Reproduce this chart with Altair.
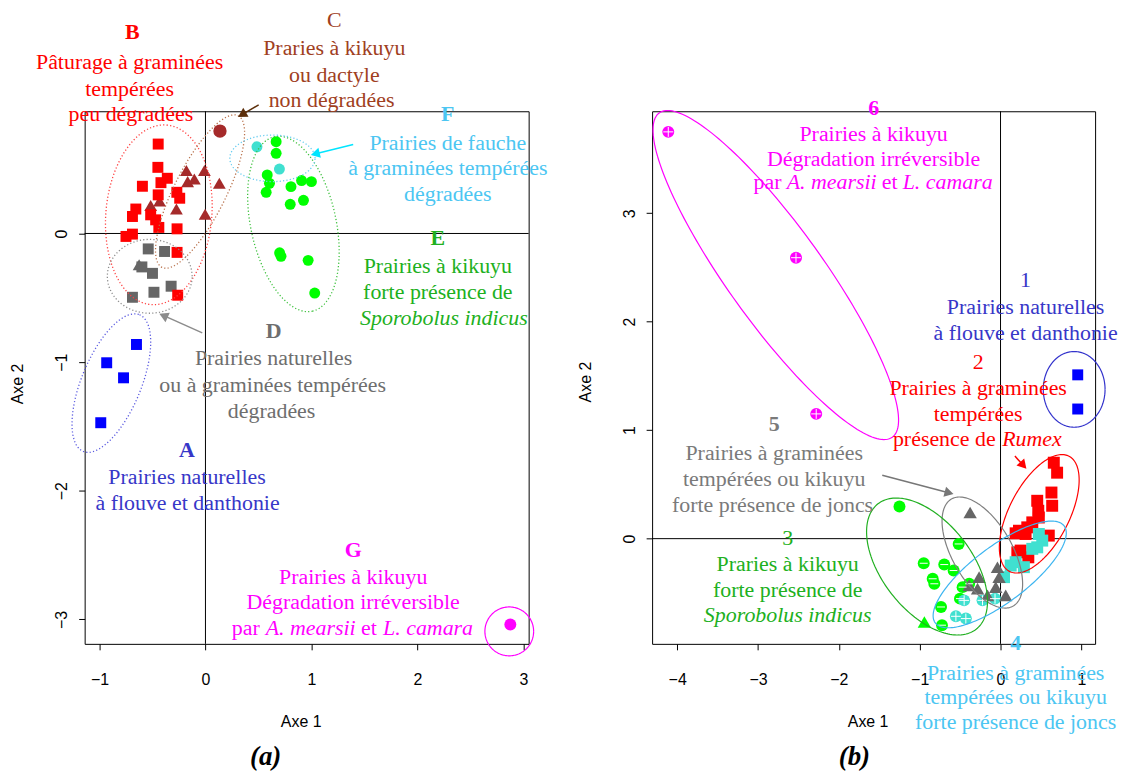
import math
import numpy as np
import pandas as pd
import altair as alt

SERIF = "Liberation Serif"
SANS = "Liberation Sans"

# ======================= PANEL (a) =======================
A_XDOM = [-1.14, 3.05]
A_YDOM = [-3.19, 0.95]
A_XTICKS = [-1, 0, 1, 2, 3]
A_YTICKS = [-3, -2, -1, 0]
A_W, A_H = 446, 535

# A : blue squares
a_A_x = [-0.651, -0.932, -0.773, -0.988]
a_A_y = [-0.863, -1.005, -1.122, -1.471]
# B : red squares
a_B_x = [-0.446, -0.449, -0.36, -0.42, -0.595, -0.446, -0.27, -0.243, -0.657,
         -0.689, -0.517, -0.47, -0.44, -0.268, -0.689, -0.75, -0.268, -0.262]
a_B_y = [0.695, 0.514, 0.429, 0.395, 0.367, 0.30, 0.32, 0.274, 0.19,
         0.132, 0.145, 0.106, 0.047, 0.036, -0.005, -0.023, -0.147, -0.48]
# C : brown triangles + brown circle
a_Ct_x = [-0.18, -0.01, -0.105, -0.168, 0.131, -0.517, -0.433, -0.274, -0.003]
a_Ct_y = [0.49, 0.49, 0.424, 0.403, 0.39, 0.217, 0.253, 0.19, 0.15]
a_Cc_x = [0.137]
a_Cc_y = [0.796]
# D : gray squares + gray triangle
a_Ds_x = [-0.54, -0.386, -0.60, -0.50, -0.324, -0.486, -0.689]
a_Ds_y = [-0.12, -0.14, -0.26, -0.31, -0.41, -0.457, -0.496]
a_Dt_x = [-0.626]
a_Dt_y = [-0.243]
# E : green circles
a_E_x = [0.667, 0.667, 0.583, 0.604, 0.573, 0.807, 0.907, 1.0, 0.80, 0.925,
         0.713, 0.70, 0.969, 1.031]
a_E_y = [0.713, 0.623, 0.455, 0.39, 0.32, 0.364, 0.411, 0.403, 0.227, 0.258,
         -0.178, -0.15, -0.209, -0.463]
# F : turquoise circles
a_F_x = [0.486, 0.698]
a_F_y = [0.674, 0.501]
# G : magenta circle
a_G_x = [2.877]
a_G_y = [-3.039]

# ellipses (centre, first and second semi-diameters) : B, C, D, A, E, F, G
a_ell_cx = [-0.44, -0.051, -0.526, -0.888, 0.83, 0.632, 2.867]
a_ell_cy = [0.145, 0.326, -0.333, -1.163, 0.074, 0.584, -3.093]
a_ell_ax = [0.075, 0.36, 0.40, 0.266, 0.179, 0.402, 0.23]
a_ell_ay = [0.698, 0.589, 0.0, 0.531, -0.678, 0.0, 0.0]
a_ell_bx = [0.498, 0.217, 0.0, 0.259, 0.393, 0.0, 0.0]
a_ell_by = [-0.036, -0.091, 0.287, -0.089, 0.071, 0.181, 0.19]
a_ell_col = ["#FF4040", "#B8704A", "#8C8C8C", "#5A5AE0", "#3CC03C", "#66CCF0", "#FF00FF"]
a_ell_dot = [True, True, True, True, True, True, False]

# arrows (tail -> head)
a_arr_x0 = [0.502, 1.394, -0.03]
a_arr_y0 = [1.0, 0.692, -0.773]
a_arr_x1 = [0.357, 1.05, -0.383]
a_arr_y1 = [0.93, 0.622, -0.643]
a_arr_col = ["#5C2E0A", "#00E5FF", "#8C8C8C"]

# annotations
a_txt = ["B", "Pâturage à graminées", "tempérées", "peu dégradées",
         "C", "Praries à kikuyu", "ou dactyle", "non dégradées",
         "F", "Prairies de fauche", "à graminées tempérées", "dégradées",
         "E", "Prairies à kikuyu", "forte présence de", "Sporobolus indicus",
         "D", "Prairies naturelles", "ou à graminées tempérées", "dégradées",
         "A", "Prairies naturelles", "à flouve et danthonie",
         "G", "Prairies à kikuyu", "Dégradation irréversible",
         "par ", "A. mearsii", "et", "L. camara"]
a_txt_x = [-0.69, -0.716, -0.716, -0.704,
           1.216, 1.216, 1.216, 1.19,
           2.287, 2.287, 2.287, 2.287,
           2.193, 2.193, 2.193, 2.25,
           0.643, 0.643, 0.634, 0.624,
           -0.174, -0.174, -0.169,
           1.394, 1.394, 1.394,
           0.249, 0.568, 1.469, 1.676]
a_txt_y = [1.566, 1.333, 1.124, 0.925,
           1.659, 1.442, 1.233, 1.039,
           0.930, 0.705, 0.512, 0.31,
           -0.039, -0.256, -0.457, -0.659,
           -0.760, -0.969, -1.178, -1.380,
           -1.682, -1.891, -2.093,
           -2.457, -2.667, -2.868,
           -3.07, -3.07, -3.07, -3.07]
a_txt_key = ["B"] * 4 + ["C"] * 4 + ["F"] * 4 + ["E"] * 4 + ["D"] * 4 + ["A"] * 3 + ["G"] * 7
a_txt_font = ["b", "n", "n", "n",
              "n", "n", "n", "n",
              "b", "n", "n", "n",
              "b", "n", "n", "i",
              "b", "n", "n", "n",
              "b", "n", "n",
              "b", "n", "n", "n", "i", "n", "i"]
a_txt_align = ["c"] * 26 + ["l"] * 4
a_cap = ["(a)"]
a_cap_x = [0.568]
a_cap_y = [-4.07]

# ======================= PANEL (b) =======================
B_XDOM = [-4.31, 1.17]
B_YDOM = [-0.97, 3.94]
B_XTICKS = [-4, -3, -2, -1, 0, 1]
B_YTICKS = [0, 1, 2, 3]
B_W, B_H = 445, 535

# 1 : blue squares
b_1_x = [0.955, 0.955]
b_1_y = [1.51, 1.195]
# 2 : red squares
b_2_x = [0.659, 0.70, 0.63, 0.639, 0.454, 0.467, 0.474, 0.393, 0.331, 0.228,
         0.187, 0.31, 0.597, 0.249, 0.208, 0.344]
b_2_y = [0.70, 0.608, 0.425, 0.303, 0.349, 0.257, 0.195, 0.15, 0.104, 0.073,
         0.049, 0.043, 0.028, -0.11, -0.126, -0.172]
# 3 : green circles + green triangle
b_3c_x = [-1.25, -0.518, -0.95, -0.696, -0.58, -0.839, -0.819, -0.469, -0.388,
          -0.502, -0.736, -0.724]
b_3c_y = [0.296, -0.049, -0.227, -0.239, -0.294, -0.37, -0.416, -0.447, -0.416,
          -0.553, -0.63, -0.798]
b_3t_x = [-0.942]
b_3t_y = [-0.768]
# 4 : turquoise squares + circles
b_4s_x = [0.474, 0.516, 0.454, 0.393, 0.187, 0.289, 0.126, 0.043]
b_4s_y = [0.043, -0.018, -0.08, -0.094, -0.217, -0.263, -0.248, -0.355]
b_4c_x = [-0.45, -0.552, -0.429, -0.223, -0.068]
b_4c_y = [-0.569, -0.716, -0.737, -0.569, -0.553]
# 5 : gray triangles
b_5_x = [-0.376, -0.265, -0.038, -0.018, -0.284, -0.161, -0.059, 0.064, -0.388]
b_5_y = [0.241, -0.355, -0.263, -0.355, -0.461, -0.523, -0.447, -0.523, -0.431]
# 6 : magenta circles
b_6_x = [-4.11, -2.53, -2.28]
b_6_y = [3.75, 2.59, 1.15]

# ellipses : 6, 1, 2, 5, 3, 4
b_ell_cx = [-2.78, 0.911, 0.479, -0.225, -0.909, -0.01]
b_ell_cy = [2.43, 1.376, 0.229, -0.128, -0.257, -0.33]
b_ell_ax = [1.441, 0.382, 0.368, 0.382, 0.607, 0.797]
b_ell_ay = [-1.495, 0.0, 0.531, -0.493, -0.578, 0.447]
b_ell_bx = [0.48, 0.0, 0.329, 0.32, 0.437, 0.208]
b_ell_by = [0.257, 0.349, -0.127, 0.138, 0.254, -0.205]
b_ell_col = ["#FF00FF", "#3333CC", "#FF0000", "#808080", "#22B022", "#3DB5F0"]
b_ell_dot = [False] * 6

b_arr_x0 = [0.178, -1.463]
b_arr_y0 = [0.761, 0.584]
b_arr_x1 = [0.27, -0.654]
b_arr_y1 = [0.685, 0.425]
b_arr_col = ["#FF0000", "#777777"]

b_txt = ["6", "Prairies à kikuyu", "Dégradation irréversible",
         "par ", "A. mearsii", "et", "L. camara",
         "1", "Prairies naturelles", "à flouve et danthonie",
         "2", "Prairies à graminées", "tempérées", "présence de ", "Rumex",
         "5", "Prairies à graminées", "tempérées ou kikuyu", "forte présence de joncs",
         "3", "Praries à kikuyu", "forte présence de", "Sporobolus indicus",
         "4", "Prairies à graminées", "tempérées ou kikuyu", "forte présence de joncs"]
b_txt_x = [-1.57, -1.57, -1.57, -3.055, -2.645, -1.469, -1.211,
           0.31, 0.31, 0.31,
           -0.277, -0.277, -0.277, -1.331, 0.021,
           -2.80, -2.80, -2.80, -2.82,
           -2.633, -2.633, -2.633, -2.633,
           0.187, 0.187, 0.187, 0.187]
b_txt_y = [3.972, 3.728, 3.498, 3.284, 3.284, 3.284, 3.284,
           2.385, 2.138, 1.899,
           1.627, 1.388, 1.15, 0.915, 0.915,
           1.055, 0.789, 0.55, 0.312,
           0.006, -0.232, -0.471, -0.706,
           -0.966, -1.241, -1.459, -1.688]
b_txt_key = ["6"] * 7 + ["1"] * 3 + ["2"] * 5 + ["5"] * 4 + ["3"] * 4 + ["4"] * 4
b_txt_font = ["b", "n", "n", "n", "i", "n", "i",
              "n", "n", "n",
              "n", "n", "n", "n", "i",
              "b", "n", "n", "n",
              "n", "n", "n", "i",
              "b", "n", "n", "n"]
b_txt_align = ["c", "c", "c", "l", "l", "l", "l",
               "c", "c", "c",
               "c", "c", "c", "l", "l",
               "c", "c", "c", "c",
               "c", "c", "c", "c",
               "c", "c", "c", "c"]
b_cap = ["(b)"]
b_cap_x = [-1.808]
b_cap_y = [-2.009]

# ======================= styles =======================
PT = {"blue": "#0000FF", "red": "#FF0000", "brown": "#A52A2A", "gray": "#666666",
      "green": "#00FF00", "turq": "#40E0D0", "magenta": "#FF00FF"}
TXT_COL = {"A": "#3737C8", "B": "#FF0000", "C": "#A0401E", "D": "#6E6E6E",
           "E": "#20B020", "F": "#4CC6F2", "G": "#FF00FF",
           "1": "#3737C8", "2": "#FF0000", "3": "#20B020", "4": "#4CC6F2",
           "5": "#7A7A7A", "6": "#FF00FF"}
CROSS = "M-1,0L1,0M0,-1L0,1"
DASH = "M-0.8,0L0.8,0"

# (xs, ys, shape, colour, size, white overlay glyph or None)
a_points = [
    (a_Ds_x, a_Ds_y, "square", "gray", 121, None),
    (a_Dt_x, a_Dt_y, "triangle-up", "gray", 165, None),
    (a_Ct_x, a_Ct_y, "triangle-up", "brown", 165, None),
    (a_Cc_x, a_Cc_y, "circle", "brown", 180, None),
    (a_B_x, a_B_y, "square", "red", 121, None),
    (a_E_x, a_E_y, "circle", "green", 121, None),
    (a_F_x, a_F_y, "circle", "turq", 121, None),
    (a_A_x, a_A_y, "square", "blue", 121, None),
    (a_G_x, a_G_y, "circle", "magenta", 144, None),
]
b_points = [
    (b_1_x, b_1_y, "square", "blue", 121, None),
    (b_2_x, b_2_y, "square", "red", 144, None),
    (b_3c_x[:1], b_3c_y[:1], "circle", "green", 144, None),
    (b_3c_x[1:], b_3c_y[1:], "circle", "green", 144, DASH),
    (b_3t_x, b_3t_y, "triangle-up", "green", 180, None),
    (b_4s_x, b_4s_y, "square", "turq", 144, None),
    (b_4c_x, b_4c_y, "circle", "turq", 144, CROSS),
    (b_5_x, b_5_y, "triangle-up", "gray", 180, None),
    (b_6_x, b_6_y, "circle", "magenta", 144, CROSS),
]


def build_panel(xdom, ydom, xticks, yticks, w, h, points, ell, arrows, texts, cap,
                xtitle_shift, ytitle_shift):
    xs = alt.Scale(domain=xdom, nice=False, zero=False)
    ys = alt.Scale(domain=ydom, nice=False, zero=False)
    xaxis = alt.Axis(values=xticks, title="Axe 1", grid=False, domain=False,
                     tickSize=6, tickColor="black", tickWidth=1,
                     labelFont=SANS, labelFontSize=16, labelColor="black",
                     labelPadding=22, labelFlush=False, labelOverlap=False,
                     titleFont=SANS, titleFontSize=16, titleFontWeight="normal",
                     titleColor="black", titleX=w / 2 + xtitle_shift, titleY=78,
                     titleAlign="center", titleBaseline="middle")
    yaxis = alt.Axis(values=yticks, title="Axe 2", grid=False, domain=False,
                     tickSize=6, tickColor="black", tickWidth=1,
                     labelFont=SANS, labelFontSize=16, labelColor="black",
                     labelAngle=270, labelAlign="center", labelBaseline="bottom",
                     labelPadding=9, labelFlush=False, labelOverlap=False,
                     titleFont=SANS, titleFontSize=16, titleFontWeight="normal",
                     titleColor="black", titleAngle=270, titleX=-67,
                     titleY=h / 2 + ytitle_shift,
                     titleAlign="center", titleBaseline="middle")

    def X(f):
        return alt.X(f"{f}:Q", scale=xs, axis=xaxis)

    def Y(f):
        return alt.Y(f"{f}:Q", scale=ys, axis=yaxis)

    sx = w / (xdom[1] - xdom[0])
    sy = h / (ydom[1] - ydom[0])

    layers = []
    # zero reference lines
    layers.append(alt.Chart(pd.DataFrame({"x": [0]})).mark_rule(
        color="black", strokeWidth=1).encode(x=X("x")))
    layers.append(alt.Chart(pd.DataFrame({"y": [0]})).mark_rule(
        color="black", strokeWidth=1).encode(y=Y("y")))

    # points
    rows = []
    k = 0
    for px, py, shp, col, sz, ov in points:
        for xv, yv in zip(px, py):
            rows.append({"x": xv, "y": yv, "shape": shp, "col": PT[col],
                         "size": sz, "ord": k, "ov": ov if ov else ""})
            k += 1
    pdf = pd.DataFrame(rows)
    layers.append(alt.Chart(pdf).mark_point(filled=True, opacity=1, strokeWidth=0).encode(
        x=X("x"), y=Y("y"),
        shape=alt.Shape("shape:N", scale=None),
        color=alt.Color("col:N", scale=None),
        size=alt.Size("size:Q", scale=None),
        order=alt.Order("ord:Q")))

    # white glyphs drawn over some symbols
    for glyph in [CROSS, DASH]:
        sub = pdf[pdf["ov"] == glyph]
        if len(sub):
            layers.append(alt.Chart(sub).mark_point(
                shape=glyph, stroke="white", strokeWidth=1, size=100,
                filled=False, opacity=1).encode(x=X("x"), y=Y("y")))

    # ellipses
    cx, cy, ax, ay, bx, by, cols, dots = ell
    t = np.linspace(0, 2 * np.pi, 181)
    erows = []
    for i in range(len(cx)):
        ex = cx[i] + ax[i] * np.cos(t) + bx[i] * np.sin(t)
        ey = cy[i] + ay[i] * np.cos(t) + by[i] * np.sin(t)
        for j in range(len(t)):
            erows.append({"x": ex[j], "y": ey[j], "id": i, "t": j,
                          "col": cols[i], "dot": dots[i]})
    edf = pd.DataFrame(erows)
    ed = edf[edf["dot"]]
    es = edf[~edf["dot"]]
    if len(ed):
        layers.append(alt.Chart(ed).mark_line(strokeWidth=1.3, strokeDash=[1.2, 2.2]).encode(
            x=X("x"), y=Y("y"), detail="id:N", order="t:Q",
            color=alt.Color("col:N", scale=None)))
    if len(es):
        layers.append(alt.Chart(es).mark_line(strokeWidth=1.2).encode(
            x=X("x"), y=Y("y"), detail="id:N", order="t:Q",
            color=alt.Color("col:N", scale=None)))

    # arrows
    x0, y0, x1, y1, acol = arrows
    ang = []
    for i in range(len(x0)):
        dxp = (x1[i] - x0[i]) * sx
        dyp = (y1[i] - y0[i]) * sy
        ang.append(math.degrees(math.atan2(dxp, dyp)) % 360)
    adf = pd.DataFrame({"x": x0, "y": y0, "x2": x1, "y2": y1, "col": acol, "ang": ang})
    layers.append(alt.Chart(adf).mark_rule(strokeWidth=1.5).encode(
        x=X("x"), y=Y("y"), x2="x2:Q", y2="y2:Q",
        color=alt.Color("col:N", scale=None)))
    layers.append(alt.Chart(adf).mark_point(shape="triangle", filled=True, size=110,
                                             opacity=1, strokeWidth=0).encode(
        x=X("x2"), y=Y("y2"), angle=alt.Angle("ang:Q", scale=None),
        color=alt.Color("col:N", scale=None)))

    # texts
    lab, tx, ty, tkey, tfont, talign = texts
    tdf = pd.DataFrame({"label": lab, "x": tx, "y": ty,
                        "col": [TXT_COL[k] for k in tkey],
                        "font": tfont, "align": talign})
    for (f, al), sub in tdf.groupby(["font", "align"]):
        layers.append(alt.Chart(sub).mark_text(
            font=SERIF, fontSize=22,
            fontWeight="bold" if "b" in f else "normal",
            fontStyle="italic" if "i" in f else "normal",
            align="left" if al == "l" else "center", baseline="middle").encode(
            x=X("x"), y=Y("y"), text="label:N",
            color=alt.Color("col:N", scale=None)))

    clab, cxs, cys = cap
    cdf = pd.DataFrame({"label": clab, "x": cxs, "y": cys})
    layers.append(alt.Chart(cdf).mark_text(
        font=SERIF, fontSize=27, fontWeight="bold", fontStyle="italic",
        align="center", baseline="middle", color="black").encode(
        x=X("x"), y=Y("y"), text="label:N"))

    return alt.layer(*layers).properties(width=w, height=h)


panel_a = build_panel(
    A_XDOM, A_YDOM, A_XTICKS, A_YTICKS, A_W, A_H, a_points,
    (a_ell_cx, a_ell_cy, a_ell_ax, a_ell_ay, a_ell_bx, a_ell_by, a_ell_col, a_ell_dot),
    (a_arr_x0, a_arr_y0, a_arr_x1, a_arr_y1, a_arr_col),
    (a_txt, a_txt_x, a_txt_y, a_txt_key, a_txt_font, a_txt_align),
    (a_cap, a_cap_x, a_cap_y), -6, 6)

panel_b = build_panel(
    B_XDOM, B_YDOM, B_XTICKS, B_YTICKS, B_W, B_H, b_points,
    (b_ell_cx, b_ell_cy, b_ell_ax, b_ell_ay, b_ell_bx, b_ell_by, b_ell_col, b_ell_dot),
    (b_arr_x0, b_arr_y0, b_arr_x1, b_arr_y1, b_arr_col),
    (b_txt, b_txt_x, b_txt_y, b_txt_key, b_txt_font, b_txt_align),
    (b_cap, b_cap_x, b_cap_y), -6, 4)

chart = alt.hconcat(panel_a, panel_b, spacing=124, bounds="flush").properties(
    padding={"left": 1, "top": -2, "right": 0, "bottom": 0},
    background="white",
).configure_view(stroke="black", strokeWidth=1).resolve_scale(
    x="independent", y="independent")

chart.save("out.html", embed_options={"renderer": "svg", "actions": False})
